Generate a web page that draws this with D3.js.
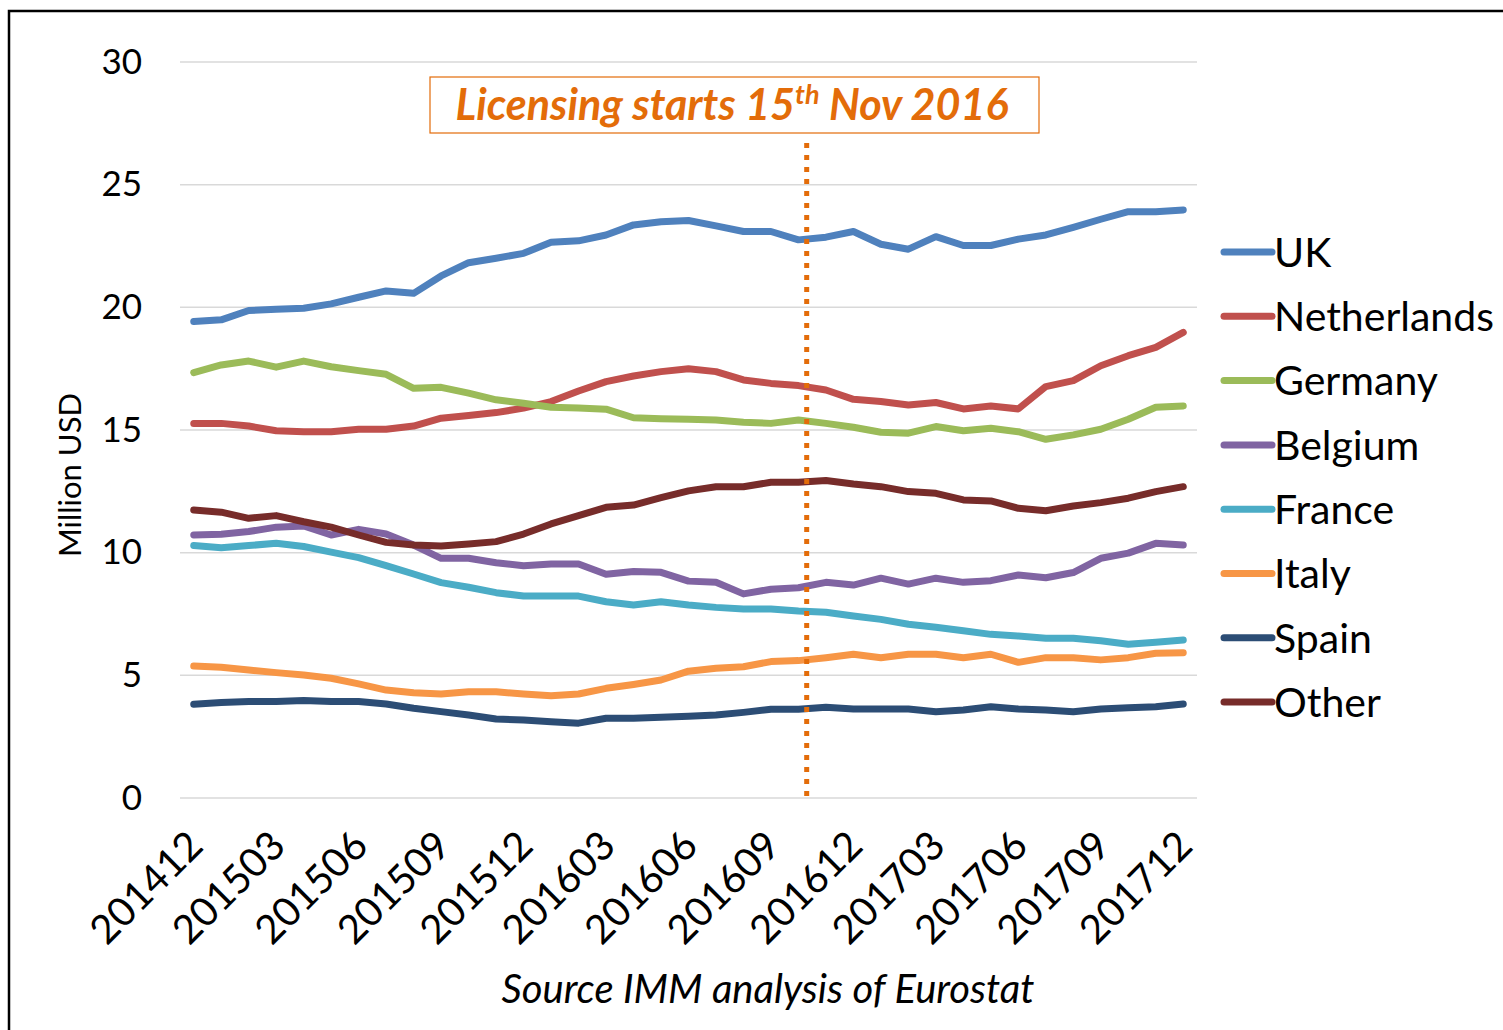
<!DOCTYPE html>
<html>
<head>
<meta charset="utf-8">
<script src="https://cdn.jsdelivr.net/npm/d3@7"></script>
<style>
  body { margin: 0; background: #fff; }
  svg { display: block; font-family: Lato, "Open Sans", sans-serif; }
</style>
</head>
<body>
<div id="chart"></div>
<script>
// months on the x axis (monthly, 201412 .. 201712)
const months = ["201412","201501","201502","201503","201504","201505","201506","201507","201508",
  "201509","201510","201511","201512","201601","201602","201603","201604","201605","201606",
  "201607","201608","201609","201610","201611","201612","201701","201702","201703","201704",
  "201705","201706","201707","201708","201709","201710","201711","201712"];

// values in million USD
const uk = [19.42,19.49,19.87,19.92,19.96,20.14,20.41,20.67,20.57,21.28,21.82,22.0,22.2,22.65,22.71,22.95,23.36,23.49,23.54,
  23.32,23.09,23.09,22.75,22.86,23.09,22.57,22.37,22.88,22.52,22.52,22.78,22.95,23.26,23.59,23.9,23.9,23.97];
const netherlands = [15.27,15.27,15.16,14.97,14.93,14.93,15.03,15.03,15.16,15.48,15.59,15.71,15.89,16.16,16.59,16.97,17.2,17.38,17.5,
  17.38,17.04,16.9,16.81,16.63,16.25,16.16,16.02,16.12,15.86,15.98,15.86,16.77,17.01,17.62,18.03,18.37,18.98];
const germany = [17.34,17.65,17.81,17.56,17.81,17.58,17.42,17.27,16.7,16.74,16.5,16.23,16.09,15.93,15.9,15.85,15.5,15.46,15.44,
  15.41,15.32,15.27,15.41,15.27,15.11,14.91,14.87,15.14,14.97,15.07,14.93,14.62,14.8,15.03,15.44,15.93,15.98];
const belgium = [10.72,10.75,10.86,11.04,11.09,10.72,10.95,10.76,10.31,9.77,9.77,9.59,9.47,9.54,9.54,9.12,9.23,9.2,8.84,
  8.79,8.32,8.51,8.57,8.79,8.68,8.96,8.72,8.96,8.79,8.86,9.09,8.98,9.19,9.77,9.98,10.38,10.31];
const france = [10.29,10.2,10.29,10.38,10.25,10.02,9.8,9.47,9.13,8.78,8.59,8.37,8.23,8.23,8.23,8.0,7.87,8.0,7.87,
  7.77,7.7,7.7,7.62,7.57,7.42,7.28,7.08,6.96,6.82,6.67,6.6,6.51,6.51,6.41,6.27,6.35,6.44];
const italy = [5.38,5.33,5.22,5.11,5.01,4.88,4.65,4.4,4.29,4.24,4.33,4.33,4.24,4.17,4.24,4.47,4.63,4.81,5.17,
  5.29,5.35,5.56,5.6,5.72,5.86,5.72,5.86,5.86,5.72,5.86,5.53,5.72,5.72,5.63,5.72,5.9,5.92];
const spain = [3.82,3.89,3.93,3.93,3.97,3.93,3.93,3.83,3.66,3.52,3.38,3.22,3.18,3.11,3.05,3.25,3.25,3.29,3.33,
  3.38,3.49,3.62,3.62,3.7,3.63,3.63,3.63,3.52,3.59,3.72,3.63,3.59,3.52,3.63,3.68,3.72,3.83];
const other = [11.74,11.65,11.4,11.51,11.26,11.04,10.72,10.42,10.31,10.27,10.35,10.45,10.76,11.17,11.51,11.85,11.94,12.24,12.52,
  12.69,12.69,12.87,12.87,12.94,12.8,12.69,12.49,12.42,12.15,12.11,11.81,11.71,11.9,12.04,12.22,12.49,12.69];

const seriesNames = ["UK","Netherlands","Germany","Belgium","France","Italy","Spain","Other"];
const seriesValues = [uk, netherlands, germany, belgium, france, italy, spain, other];
const colours = ["#4F81BD","#C0504D","#9BBB59","#8064A2","#4BACC6","#F79646","#2C4D75","#772C2A"];

const yTicks = [0, 5, 10, 15, 20, 25, 30];
const xTickLabels = months.filter((m, i) => i % 3 === 0);

// licensing start marker: sits a bit after 201610
const licenceMonth = "201610", licenceFrac = 0.3;

const W = 1503, H = 1030;
const plotLeft = 180, plotRight = 1197, plotTop = 62, plotBottom = 798;

const svg = d3.select("#chart").append("svg")
  .attr("width", W).attr("height", H);

svg.append("rect").attr("width", W).attr("height", H).attr("fill", "#fff");
// outer frame (runs off the right and bottom edge)
svg.append("rect")
  .attr("x", 9).attr("y", 11).attr("width", W + 20).attr("height", H + 20)
  .attr("fill", "none").attr("stroke", "#000").attr("stroke-width", 2.5);

let x = d3.scalePoint().domain(months).range([plotLeft, plotRight]).padding(0.5);
let y = d3.scaleLinear().domain([0, 30]).range([plotBottom, plotTop]);

// gridlines
svg.append("g")
  .selectAll("line")
  .data(yTicks)
  .enter().append("line")
  .attr("x1", plotLeft).attr("x2", plotRight)
  .attr("y1", d => y(d)).attr("y2", d => y(d))
  .attr("stroke", "#D9D9D9").attr("stroke-width", 1.5);

// y axis labels
let yAxis = svg.append("g")
  .attr("transform", `translate(${plotLeft}, 0)`)
  .call(d3.axisLeft(y).tickValues(yTicks).tickSize(0).tickPadding(38));
yAxis.select(".domain").remove();
yAxis.selectAll("text")
  .attr("font-family", "Lato, sans-serif")
  .attr("font-size", 35).attr("fill", "#000");

// x axis labels, rotated
let xAxis = svg.append("g")
  .attr("transform", `translate(0, ${plotBottom})`)
  .call(d3.axisBottom(x).tickValues(xTickLabels).tickSize(0).tickPadding(0));
xAxis.select(".domain").remove();
xAxis.selectAll("text")
  .attr("font-family", "Lato, sans-serif")
  .attr("font-size", 40).attr("fill", "#000")
  .attr("text-anchor", "end")
  .attr("dy", null)
  .attr("transform", "translate(11, 50) rotate(-45)");

// y axis title
svg.append("text")
  .attr("transform", `translate(81, ${(plotTop + plotBottom) / 2 + 45}) rotate(-90)`)
  .attr("text-anchor", "middle")
  .attr("font-size", 31)
  .text("Million USD");

// source caption
svg.append("text")
  .attr("x", 768).attr("y", 1003)
  .attr("text-anchor", "middle")
  .attr("font-size", 40).attr("font-style", "italic")
  .text("Source IMM analysis of Eurostat");

// series lines
let line = d3.line()
  .x((d, i) => x(months[i]))
  .y(d => y(d));

svg.append("g")
  .selectAll("path")
  .data(seriesValues)
  .enter().append("path")
  .attr("d", d => line(d))
  .attr("fill", "none")
  .attr("stroke", (d, i) => colours[i])
  .attr("stroke-width", 7)
  .attr("stroke-linejoin", "round")
  .attr("stroke-linecap", "round");

// licensing marker
let lx = x(licenceMonth) + licenceFrac * x.step();
svg.append("line")
  .attr("x1", lx).attr("x2", lx)
  .attr("y1", 143).attr("y2", plotBottom)
  .attr("stroke", "#E36C09").attr("stroke-width", 5)
  .attr("stroke-dasharray", "5 7");

svg.append("rect")
  .attr("x", 430).attr("y", 77).attr("width", 609).attr("height", 56)
  .attr("fill", "#fff").attr("stroke", "#E36C09").attr("stroke-width", 1.2);

let note = svg.append("text")
  .attr("x", 732).attr("y", 120)
  .attr("text-anchor", "middle")
  .attr("font-size", 43).attr("font-style", "italic").attr("font-weight", "bold")
  .attr("fill", "#E36C09");
note.append("tspan").text("Licensing starts 15");
note.append("tspan").attr("dy", -16).attr("font-size", 27).text("th");
note.append("tspan").attr("dy", 16).text(" Nov 2016");

// legend
let legend = svg.append("g")
  .selectAll("g")
  .data(seriesNames)
  .enter().append("g")
  .attr("transform", (d, i) => `translate(1224, ${252 + i * 64.3})`);

legend.append("line")
  .attr("x1", 0).attr("x2", 48)
  .attr("stroke", (d, i) => colours[i])
  .attr("stroke-width", 7)
  .attr("stroke-linecap", "round");

legend.append("text")
  .attr("x", 50).attr("dy", "0.36em")
  .attr("font-size", 41)
  .text(d => d);
</script>
</body>
</html>
